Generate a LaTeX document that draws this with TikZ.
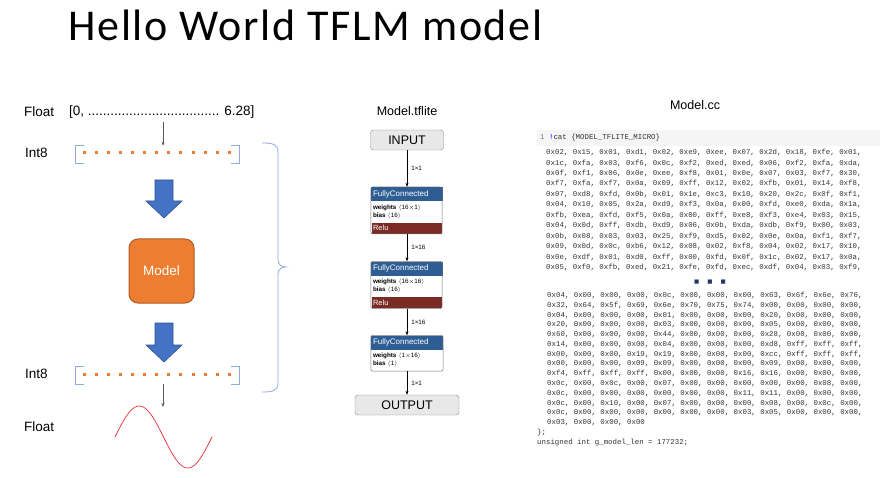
\documentclass[tikz,border=0pt]{standalone}
\usepackage{fontspec}
\setmainfont{Liberation Sans}
\newfontfamily\titlefont[LetterSpace=4]{Carlito}
\newfontfamily\codefont{Liberation Mono}
\newfontfamily\symfont{DejaVu Sans}
\usetikzlibrary{positioning,arrows.meta}

\definecolor{tforange}{HTML}{ED7D31}
\definecolor{tforangedark}{HTML}{AE5A21}
\definecolor{tfblue}{HTML}{4472C4}
\definecolor{tfbluedark}{HTML}{2F528F}
\definecolor{brackc}{HTML}{8FAADC}
\definecolor{fcblue}{HTML}{2E5D94}
\definecolor{fcred}{HTML}{7B2B25}
\definecolor{iobox}{HTML}{E8E8E8}
\definecolor{codebar}{HTML}{F5F5F5}
\definecolor{sinec}{HTML}{E8303A}
\definecolor{dotsc}{HTML}{1F3864}

\begin{document}
\begin{tikzpicture}[x=1pt, y=-1pt,
    label/.style={font=\fontsize{13.5}{16}\selectfont, inner sep=0, anchor=west},
    heading/.style={font=\fontsize{12.5}{15}\selectfont, inner sep=0},
    bracket/.style={draw=brackc, line width=0.8pt},
    qdots/.style={draw=tforange, line width=3pt, dash pattern=on 3pt off 9.08pt},
    qrow/.style={minimum width=163pt, minimum height=17pt, inner sep=0},
    thinarrow/.style={-{Stealth[length=4pt,width=3pt]}, draw=black!65, line width=0.5pt},
    blockarrow/.style={fill=tfblue, draw=tfbluedark, line width=0.6pt, line join=miter},
    model/.style={draw=tforangedark, fill=tforange, line width=1pt, rounded corners=9pt,
        minimum width=65pt, minimum height=64pt, text=white, font=\fontsize{13.5}{16}\selectfont},
    io/.style={draw=black!45, fill=iobox, rounded corners=3pt, minimum height=20pt,
        font=\fontsize{12.5}{15}\selectfont},
    fchead/.style={fill=fcblue, text=white, text width=68pt, minimum height=14pt, inner sep=2pt,
        font=\fontsize{8}{9}\selectfont, align=left},
    fcbody/.style={fill=white, text width=68pt, minimum height=21pt, inner sep=2pt,
        font=\fontsize{6.3}{8}\selectfont, align=left},
    fcrelu/.style={fill=fcred, text=white, text width=68pt, minimum height=11pt, inner sep=1pt,
        font=\fontsize{7.5}{8}\selectfont, align=left},
    fcframe/.style={draw=black!55, rounded corners=2pt, line width=0.5pt},
    flow/.style={-{Stealth[length=4pt,width=3pt]}, line width=0.5pt},
    dimlabel/.style={font=\fontsize{6.3}{8}\selectfont, inner sep=0},
    code/.style={font=\codefont\fontsize{7.4}{10.45}\selectfont, text=black!80, align=left, inner sep=0},
    codeb/.style={code, font=\codefont\fontsize{7.4}{9.77}\selectfont}
]
\useasboundingbox (0,0) rectangle (888,478);

% Title
\node[font=\titlefont\fontsize{44}{48}\selectfont, anchor=base west, inner sep=0] (title) at (68,41) {Hello World TFLM model};

% Quantisation column
\node[label] (floatin) at (24,112) {Float};
\node[label] (range) at (69,112) {[0, ................................... 6.28]};
\node[label] (int8in) at (25,153) {Int8};
\node[label] (int8out) at (25,374) {Int8};
\node[label] (floatout) at (24,427) {Float};

\node[qrow] (inrow) at (157.5,154.5) {};
\node[qrow] (outrow) at (157.5,375.5) {};
\coordinate (qin) at (163,122);
\coordinate (qout) at (163,407);

% Int8 brackets and values
\draw[bracket] ([xshift=8pt]inrow.north west) -- (inrow.north west) -- (inrow.south west) -- ([xshift=8pt]inrow.south west);
\draw[bracket] ([xshift=-8pt]inrow.north east) -- (inrow.north east) -- (inrow.south east) -- ([xshift=-8pt]inrow.south east);
\draw[bracket] ([xshift=8pt]outrow.north west) -- (outrow.north west) -- (outrow.south west) -- ([xshift=8pt]outrow.south west);
\draw[bracket] ([xshift=-8pt]outrow.north east) -- (outrow.north east) -- (outrow.south east) -- ([xshift=-8pt]outrow.south east);
\draw[qdots] ([xshift=7pt,yshift=1.5pt]inrow.west) -- ++(148,0);
\draw[qdots] ([xshift=7pt,yshift=1.5pt]outrow.west) -- ++(148,0);

\draw[thinarrow] (qin) -- (qin |- inrow.north);
\draw[thinarrow] (qout |- outrow.south) -- (qout);

% Model and block arrows
\node[model] (model) at (161.5,271) {Model};
\draw[blockarrow] (155,180) -- (173,180) -- (173,201) -- (182,201) -- (164,218) -- (146,201) -- (155,201) -- cycle;
\draw[blockarrow] (155,323) -- (173,323) -- (173,345) -- (182,345) -- (164,362) -- (146,345) -- (155,345) -- cycle;

% Output sine
\draw[sinec, line width=0.7pt] plot[domain=0:360, samples=73, smooth] ({115+\x/360*97},{437-31*sin(\x)});

% Brace
\draw[bracket] (262,143) .. controls (272,143) and (278,144) .. (278,152) -- (278,260)
    .. controls (278,265) and (282,267) .. (286,267) .. controls (282,267) and (278,269) .. (278,274)
    -- (278,383) .. controls (278,391) and (272,392) .. (262,392);

% Model.tflite graph
\node[heading] (tftitle) at (407,111) {Model.tflite};
\node[io, minimum width=73pt] (input) at (407,140) {INPUT};

\node[fchead] (fc1) at (407,194) {FullyConnected};
\node[fcbody, below=0pt of fc1] (fc1b) {\textbf{weights} $\langle$16$\times$1$\rangle$\\\textbf{bias} $\langle$16$\rangle$};
\node[fcrelu, below=0pt of fc1b] (fc1r) {Relu};
\draw[fcframe] (fc1.north west) rectangle (fc1r.south east);

\node[fchead] (fc2) at (407,268.5) {FullyConnected};
\node[fcbody, below=0pt of fc2] (fc2b) {\textbf{weights} $\langle$16$\times$16$\rangle$\\\textbf{bias} $\langle$16$\rangle$};
\node[fcrelu, below=0pt of fc2b] (fc2r) {Relu};
\draw[fcframe] (fc2.north west) rectangle (fc2r.south east);

\node[fchead] (fc3) at (407,342.5) {FullyConnected};
\node[fcbody, below=0pt of fc3] (fc3b) {\textbf{weights} $\langle$1$\times$16$\rangle$\\\textbf{bias} $\langle$1$\rangle$};
\draw[fcframe] (fc3.north west) rectangle (fc3b.south east);

\node[io, minimum width=104pt] (output) at (407,405) {OUTPUT};

\draw[flow] (input) -- node[dimlabel, right=4pt] {1×1} (fc1);
\draw[flow] (fc1r) -- node[dimlabel, right=4pt] {1×16} (fc2);
\draw[flow] (fc2r) -- node[dimlabel, right=4pt] {1×16} (fc3);
\draw[flow] (fc3b) -- node[dimlabel, right=4pt] {1×1} (output);

% Model.cc listing
\node[heading] (cctitle) at (695,105) {Model.cc};
\node[fill=codebar, minimum width=343pt, minimum height=16pt, inner sep=0] (cmdbar) at (708.5,138) {};
\node[code, anchor=west] (cmd) at (540,138) {{\color{black!50}1} {\color{blue}!}cat \{MODEL\_TFLITE\_MICRO\}};

\node[code, anchor=north west] (hextop) at (546,149) {%
0x02, 0x15, 0x01, 0xd1, 0x02, 0xe9, 0xee, 0x07, 0x2d, 0x18, 0xfe, 0x01,\\
0x1c, 0xfa, 0x03, 0xf6, 0x0c, 0xf2, 0xed, 0xed, 0x06, 0xf2, 0xfa, 0xda,\\
0x0f, 0xf1, 0x06, 0x0e, 0xee, 0xf8, 0x01, 0x0e, 0x07, 0x03, 0xf7, 0x30,\\
0xf7, 0xfa, 0xf7, 0x0a, 0x09, 0xff, 0x12, 0x02, 0xfb, 0x01, 0x14, 0xf8,\\
0x07, 0xd8, 0xfd, 0x0b, 0x01, 0x1e, 0xc3, 0x10, 0x20, 0x2c, 0x0f, 0xf1,\\
0x04, 0x10, 0x05, 0x2a, 0xd9, 0xf3, 0x0a, 0x00, 0xfd, 0xe0, 0xda, 0x1a,\\
0xfb, 0xea, 0xfd, 0xf5, 0x0a, 0x00, 0xff, 0xe8, 0xf3, 0xe4, 0x03, 0x15,\\
0x04, 0x0d, 0xff, 0xdb, 0xd9, 0x06, 0x0b, 0xda, 0xdb, 0xf9, 0x00, 0x03,\\
0x0b, 0x08, 0x03, 0x03, 0x25, 0xf9, 0xd5, 0x02, 0x0e, 0x0a, 0xf1, 0xf7,\\
0x09, 0x0d, 0x0c, 0xb6, 0x12, 0x08, 0x02, 0xf8, 0x04, 0x02, 0x17, 0x10,\\
0x0e, 0xdf, 0x01, 0xd0, 0xff, 0x00, 0xfd, 0x0f, 0x1c, 0x02, 0x17, 0x0a,\\
0x05, 0xf0, 0xfb, 0xed, 0x21, 0xfe, 0xfd, 0xec, 0xdf, 0x04, 0x03, 0xf9,};

\node[font=\symfont\fontsize{5.5}{6}\selectfont, text=dotsc, inner sep=0, anchor=base] (gap) at (710,283) {■\hspace{8pt}■\hspace{8pt}■};

\node[codeb, anchor=north west] (hexend) at (547,292) {%
0x04, 0x00, 0x00, 0x00, 0x0c, 0x00, 0x00, 0x00, 0x63, 0x6f, 0x6e, 0x76,\\
0x32, 0x64, 0x5f, 0x69, 0x6e, 0x70, 0x75, 0x74, 0x00, 0x00, 0x00, 0x00,\\
0x04, 0x00, 0x00, 0x00, 0x01, 0x00, 0x00, 0x00, 0x20, 0x00, 0x00, 0x00,\\
0x20, 0x00, 0x00, 0x00, 0x03, 0x00, 0x00, 0x00, 0x05, 0x00, 0x00, 0x00,\\
0x60, 0x00, 0x00, 0x00, 0x44, 0x00, 0x00, 0x00, 0x28, 0x00, 0x00, 0x00,\\
0x14, 0x00, 0x00, 0x00, 0x04, 0x00, 0x00, 0x00, 0xd8, 0xff, 0xff, 0xff,\\
0x00, 0x00, 0x00, 0x19, 0x19, 0x00, 0x00, 0x00, 0xcc, 0xff, 0xff, 0xff,\\
0x00, 0x00, 0x00, 0x09, 0x09, 0x00, 0x00, 0x00, 0x09, 0x00, 0x00, 0x00,\\
0xf4, 0xff, 0xff, 0xff, 0x00, 0x00, 0x00, 0x16, 0x16, 0x00, 0x00, 0x00,\\
0x0c, 0x00, 0x0c, 0x00, 0x07, 0x00, 0x00, 0x00, 0x00, 0x00, 0x08, 0x00,\\
0x0c, 0x00, 0x00, 0x00, 0x00, 0x00, 0x00, 0x11, 0x11, 0x00, 0x00, 0x00,\\
0x0c, 0x00, 0x10, 0x00, 0x07, 0x00, 0x00, 0x00, 0x08, 0x00, 0x0c, 0x00,\\
0x0c, 0x00, 0x00, 0x00, 0x00, 0x00, 0x00, 0x03, 0x05, 0x00, 0x00, 0x00,\\
0x03, 0x00, 0x00, 0x00};
\node[codeb, anchor=north west] (tail) at (537,429) {\};\\unsigned int g\_model\_len = 177232;};

\end{tikzpicture}
\end{document}
